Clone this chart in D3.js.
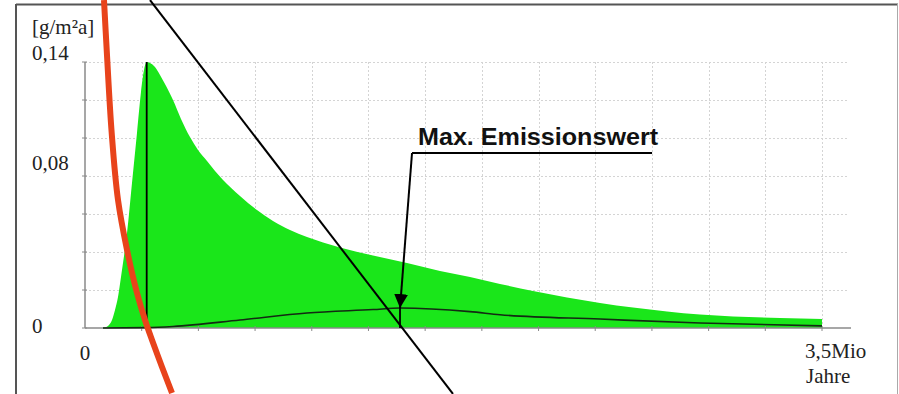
<!DOCTYPE html>
<html>
<head>
<meta charset="utf-8">
<script src="https://cdn.jsdelivr.net/npm/d3@7"></script>
<style>
  html, body { margin: 0; padding: 0; background: #fff; }
  svg { display: block; }
</style>
</head>
<body>
<svg id="chart" width="899" height="394"></svg>
<script>
// ---------- DATA (x in Mio Jahre, y in g/m²a) ----------
const greenX = [0.0855, 0.1092, 0.1282, 0.1425, 0.1567, 0.1757, 0.1995, 0.2232, 0.2469, 0.2659, 0.2802, 0.2930, 0.3087, 0.3324, 0.3562, 0.3799, 0.4179, 0.4559, 0.4986, 0.5366, 0.5794, 0.6174, 0.6554, 0.7361, 0.8168, 0.8928, 0.9735, 1.0543, 1.1303, 1.2110, 1.3677, 1.5292, 1.6859, 1.8284, 1.9708, 2.1276, 2.2890, 2.4457, 2.6025, 2.7639, 2.9206, 3.0774, 3.3006, 3.5];
const greenY = [0, 0.0011, 0.0042, 0.0095, 0.0163, 0.0305, 0.0500, 0.0763, 0.1026, 0.1242, 0.1358, 0.1400, 0.1395, 0.1374, 0.1332, 0.1284, 0.1200, 0.1100, 0.1005, 0.0937, 0.0879, 0.0826, 0.0779, 0.0695, 0.0621, 0.0563, 0.0516, 0.0479, 0.0450, 0.0424, 0.0382, 0.0342, 0.0300, 0.0268, 0.0232, 0.0195, 0.0161, 0.0132, 0.0108, 0.0087, 0.0071, 0.0061, 0.0053, 0.0047];

const emisX = [0.0855, 0.293, 0.418, 0.736, 1.054, 1.368, 1.496, 1.828, 1.971, 2.446, 2.921, 3.5];
const emisY = [0, 0.0002, 0.0008, 0.0042, 0.0079, 0.0097, 0.0105, 0.0086, 0.0070, 0.0047, 0.0026, 0.0011];

const peakX = 0.293, peakY = 0.14;          // Maximum of green curve
const maxEmisX = 1.496, maxEmisY = 0.0105;  // "Max. Emissionswert"

const redX = [0.0902, 0.1031, 0.1268, 0.1567, 0.1995, 0.2470, 0.2850, 0.3182, 0.3657, 0.4132];
const redY = [0.1726, 0.1463, 0.1026, 0.0674, 0.0411, 0.0184, 0.0042, -0.0063, -0.0205, -0.0342];

const diagX = [0.3087, 1.7476];
const diagY = [0.1726, -0.0347];

const yTickValues = [0, 0.02, 0.04, 0.06, 0.08, 0.10, 0.12, 0.14];
const yTickLabels = [{v: 0, t: "0"}, {v: 0.08, t: "0,08"}, {v: 0.14, t: "0,14"}];
const xGridCount = 13;
const xTickValues = d3.range(1, xGridCount + 1).map(i => i * 3.5 / xGridCount);
const yUnit = "[g/m²a]";
const xStartLabel = "0";
const xEndLabel = ["3,5Mio", "Jahre"];
const annotationText = "Max. Emissionswert";
const annotationAnchor = {x: 1.553, y: 0.0921};
const annotationEndX = 2.693;

// ---------- SCALES ----------
const x = d3.scaleLinear().domain([0, 3.5]).range([85, 822]);
const y = d3.scaleLinear().domain([0, 0.14]).range([328, 62]);
const gridRight = x.invert(847);
const axisRight = x.invert(851);

const svg = d3.select("#chart");

// outer frame
svg.append("line").attr("x1", 16).attr("x2", 898).attr("y1", 4.5).attr("y2", 4.5)
  .attr("stroke", "#555").attr("stroke-width", 2);
svg.append("line").attr("x1", 16).attr("x2", 16).attr("y1", 4).attr("y2", 394)
  .attr("stroke", "#555").attr("stroke-width", 2);
svg.append("line").attr("x1", 897.5).attr("x2", 897.5).attr("y1", 4).attr("y2", 394)
  .attr("stroke", "#aaa").attr("stroke-width", 1);

// grid
const grid = svg.append("g").attr("stroke", "#d4d4d4").attr("stroke-width", 1)
  .attr("stroke-dasharray", "2,2");
grid.selectAll("line.h").data(yTickValues.filter(v => v > 0)).join("line")
  .attr("x1", x(0)).attr("x2", x(gridRight))
  .attr("y1", d => Math.round(y(d)) + 0.5).attr("y2", d => Math.round(y(d)) + 0.5);
grid.selectAll("line.v").data(xTickValues).join("line")
  .attr("x1", d => Math.round(x(d)) + 0.5).attr("x2", d => Math.round(x(d)) + 0.5)
  .attr("y1", y(0.14)).attr("y2", y(0));

// green area
const pts = greenX.map((v, i) => [v, greenY[i]]);
svg.append("path").datum(pts)
  .attr("fill", "#1ae61a")
  .attr("d", d3.area().x(d => x(d[0])).y0(y(0)).y1(d => y(d[1])).curve(d3.curveMonotoneX));

// axes
const axes = svg.append("g").attr("stroke", "#8a8a8a").attr("stroke-width", 1.5);
axes.append("line").attr("x1", x(0)).attr("x2", x(0)).attr("y1", y(0.14)).attr("y2", y(0));
axes.append("line").attr("x1", x(0)).attr("x2", x(axisRight)).attr("y1", y(0)).attr("y2", y(0));
axes.selectAll("line.yt").data(yTickValues).join("line")
  .attr("x1", x(0) - 3).attr("x2", x(0) + 2)
  .attr("y1", d => y(d)).attr("y2", d => y(d)).attr("stroke-width", 1);
axes.selectAll("line.xt").data(xTickValues).join("line")
  .attr("x1", d => x(d)).attr("x2", d => x(d))
  .attr("y1", y(0) - 2).attr("y2", y(0) + 3).attr("stroke-width", 1);

// emission curve
const ePts = emisX.map((v, i) => [v, emisY[i]]);
svg.append("path").datum(ePts)
  .attr("fill", "none").attr("stroke", "#132a13").attr("stroke-width", 1.6)
  .attr("d", d3.line().x(d => x(d[0])).y(d => y(d[1])).curve(d3.curveMonotoneX));

// vertical line at peak
svg.append("line").attr("x1", x(peakX)).attr("x2", x(peakX)).attr("y1", y(peakY)).attr("y2", y(0))
  .attr("stroke", "#000").attr("stroke-width", 1.8);

// vertical line at max emission
svg.append("line").attr("x1", x(maxEmisX)).attr("x2", x(maxEmisX)).attr("y1", y(maxEmisY)).attr("y2", y(0))
  .attr("stroke", "#000").attr("stroke-width", 1.8);

// annotation
svg.append("defs").append("marker").attr("id", "arrow")
  .attr("viewBox", "0 0 10 10").attr("refX", 10).attr("refY", 5)
  .attr("markerWidth", 14).attr("markerHeight", 14).attr("markerUnits", "userSpaceOnUse")
  .attr("orient", "auto")
  .append("path").attr("d", "M0,0 L10,5 L0,10 Z").attr("fill", "#000");
svg.append("line")
  .attr("x1", x(annotationAnchor.x)).attr("y1", y(annotationAnchor.y))
  .attr("x2", x(annotationEndX)).attr("y2", y(annotationAnchor.y))
  .attr("stroke", "#000").attr("stroke-width", 2);
svg.append("line")
  .attr("x1", x(annotationAnchor.x)).attr("y1", y(annotationAnchor.y))
  .attr("x2", x(maxEmisX)).attr("y2", y(maxEmisY))
  .attr("stroke", "#000").attr("stroke-width", 2)
  .attr("marker-end", "url(#arrow)");
svg.append("text")
  .attr("x", x(annotationAnchor.x) + 6).attr("y", y(annotationAnchor.y) - 8)
  .attr("font-family", "Liberation Sans, Arial, sans-serif").attr("font-weight", "bold")
  .attr("font-size", 23).attr("fill", "#111")
  .attr("textLength", 240).attr("lengthAdjust", "spacingAndGlyphs")
  .text(annotationText);

// diagonal black line
svg.append("line")
  .attr("x1", x(diagX[0])).attr("y1", y(diagY[0]))
  .attr("x2", x(diagX[1])).attr("y2", y(diagY[1]))
  .attr("stroke", "#000").attr("stroke-width", 2);

// red curve
const rPts = redX.map((v, i) => [v, redY[i]]);
svg.append("path").datum(rPts)
  .attr("fill", "none").attr("stroke", "#e8431b").attr("stroke-width", 6)
  .attr("d", d3.line().x(d => x(d[0])).y(d => y(d[1])).curve(d3.curveCatmullRom));

// labels
const serif = "Liberation Serif, Times New Roman, serif";
const lab = svg.append("g").attr("font-family", serif).attr("font-size", 21).attr("fill", "#222");
lab.append("text").attr("x", 32).attr("y", 34).text(yUnit);
lab.selectAll("text.yl").data(yTickLabels).join("text")
  .attr("x", 32).attr("y", d => d.v === 0 ? y(d.v) + 5 : y(d.v) - (d.v === 0.14 ? 2 : 6))
  .text(d => d.t);
lab.append("text").attr("x", x(0)).attr("y", y(0) + 32).attr("text-anchor", "middle").text(xStartLabel);
lab.append("text").attr("x", 805).attr("y", y(0) + 30).text(xEndLabel[0]);
lab.append("text").attr("x", 806).attr("y", y(0) + 55).text(xEndLabel[1]);
</script>
</body>
</html>
